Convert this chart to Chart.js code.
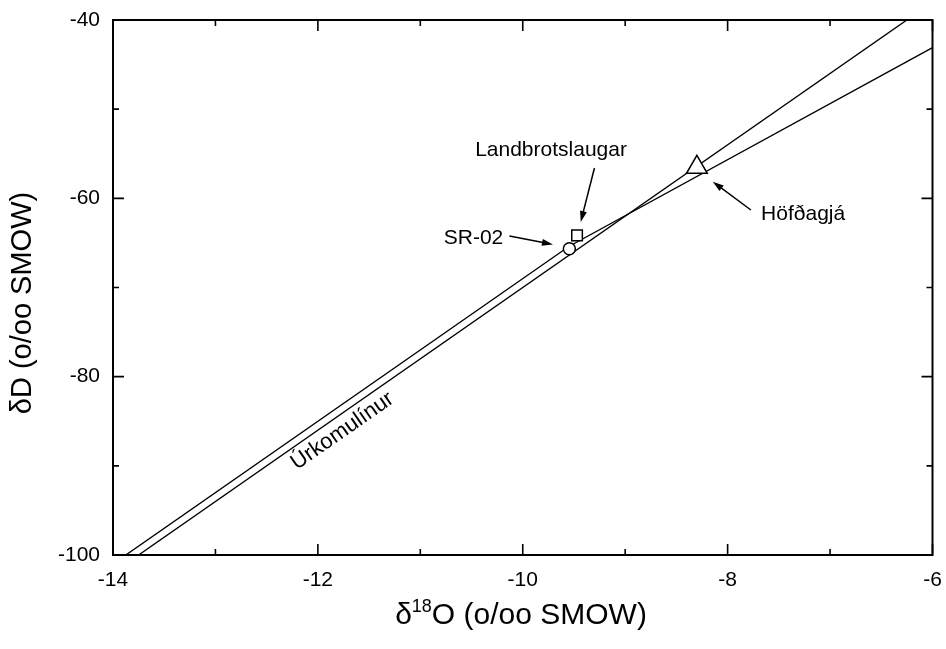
<!DOCTYPE html>
<html><head><meta charset="utf-8">
<script src="https://cdn.jsdelivr.net/npm/chart.js@4.4.0/dist/chart.umd.min.js"></script>
<style>html,body{margin:0;padding:0;background:#fff;}#wrap{width:946px;height:649px;}</style>
</head><body><div id="wrap"><canvas id="c" width="946" height="649"></canvas></div>
<script>
// ---- data ----
const xMajorTicks = [-14, -12, -10, -8, -6];
const xMinorTicks = [-13, -11, -9, -7];
const yMajorTicks = [-100, -80, -60, -40];
const yMinorTicks = [-90, -70, -50];
const gmwlO = [-13.75, -6.25];
const gmwlD = [-100, -40];
const localO = [-13.875, -9.55, -6.0];
const localD = [-100, -65.4, -43.1];
const sampleNames = ['SR-02', 'Landbrotslaugar', 'Höfðagjá'];
const sampleO = [-9.545, -9.47, -8.30];
const sampleD = [-65.66, -64.15, -56.52];
const lineLabel = 'Úrkomulínur';
const xTitleParts = ['δ', '18', 'O (o/oo SMOW)'];
const yTitle = 'δD (o/oo SMOW)';

// ---- annotation layout (data coordinates) ----
const notes = [
  {text: sampleNames[1], x: -9.724, y: -54.58, align: 'center', tail: [-9.30, -56.6], tip: [-9.434, -62.65]},
  {text: sampleNames[0], x: -10.19, y: -64.45, align: 'right', tail: [-10.13, -64.22], tip: [-9.705, -65.18]},
  {text: sampleNames[2], x: -7.673, y: -61.76, align: 'left', tail: [-7.773, -61.31], tip: [-8.145, -58.13]}
];
const lineNote = {x: -11.76, y: -86.1};

const FONT = "'Liberation Sans', Arial, sans-serif";

function arrow(ctx, x1, y1, x2, y2) {
  const a = Math.atan2(y2 - y1, x2 - x1);
  const L = 11, W = 3.5;
  ctx.beginPath();
  ctx.moveTo(x1, y1);
  ctx.lineTo(x2 - Math.cos(a) * L * 0.8, y2 - Math.sin(a) * L * 0.8);
  ctx.stroke();
  ctx.beginPath();
  ctx.moveTo(x2, y2);
  ctx.lineTo(x2 - Math.cos(a) * L + Math.sin(a) * W, y2 - Math.sin(a) * L - Math.cos(a) * W);
  ctx.lineTo(x2 - Math.cos(a) * L - Math.sin(a) * W, y2 - Math.sin(a) * L + Math.cos(a) * W);
  ctx.closePath();
  ctx.fill();
}

const decor = {
  id: 'decor',
  afterDraw(chart) {
    const {ctx, chartArea: ca, scales: {x, y}} = chart;
    ctx.save();
    ctx.strokeStyle = '#000'; ctx.fillStyle = '#000';
    // frame
    ctx.lineWidth = 2;
    ctx.strokeRect(ca.left, ca.top, ca.right - ca.left, ca.bottom - ca.top);
    // ticks (inward, all sides)
    ctx.lineWidth = 1.6;
    const tk = (vals, len) => {
      vals.forEach(v => {
        const px = x.getPixelForValue(v);
        ctx.beginPath();
        ctx.moveTo(px, ca.bottom); ctx.lineTo(px, ca.bottom - len);
        ctx.moveTo(px, ca.top); ctx.lineTo(px, ca.top + len);
        ctx.stroke();
      });
    };
    const tky = (vals, len) => {
      vals.forEach(v => {
        const py = y.getPixelForValue(v);
        ctx.beginPath();
        ctx.moveTo(ca.left, py); ctx.lineTo(ca.left + len, py);
        ctx.moveTo(ca.right, py); ctx.lineTo(ca.right - len, py);
        ctx.stroke();
      });
    };
    tk(xMajorTicks, 11); tk(xMinorTicks, 6);
    tky(yMajorTicks, 11); tky(yMinorTicks, 6);

    // annotations
    ctx.font = '21px ' + FONT;
    ctx.textBaseline = 'middle';
    ctx.lineWidth = 1.5;
    notes.forEach(n => {
      ctx.textAlign = n.align;
      ctx.fillText(n.text, x.getPixelForValue(n.x), y.getPixelForValue(n.y));
      arrow(ctx, x.getPixelForValue(n.tail[0]), y.getPixelForValue(n.tail[1]),
                 x.getPixelForValue(n.tip[0]), y.getPixelForValue(n.tip[1]));
    });
    // rotated line label
    const ang = Math.atan2(y.getPixelForValue(gmwlD[1]) - y.getPixelForValue(gmwlD[0]),
                           x.getPixelForValue(gmwlO[1]) - x.getPixelForValue(gmwlO[0]));
    ctx.save();
    ctx.translate(x.getPixelForValue(lineNote.x), y.getPixelForValue(lineNote.y));
    ctx.rotate(ang);
    ctx.textAlign = 'center';
    ctx.font = '22px ' + FONT;
    ctx.fillText(lineLabel, 0, 0);
    ctx.restore();

    // x title with superscript
    const big = 30, small = 18;
    const f1 = big + 'px ' + FONT, f2 = small + 'px ' + FONT;
    ctx.textBaseline = 'alphabetic';
    ctx.textAlign = 'left';
    ctx.font = f1; const w0 = ctx.measureText(xTitleParts[0]).width;
    const w2 = ctx.measureText(xTitleParts[2]).width;
    ctx.font = f2; const w1 = ctx.measureText(xTitleParts[1]).width;
    const total = w0 + w1 + w2;
    let sx = 521 - total / 2;
    const by = 624;
    ctx.font = f1; ctx.fillText(xTitleParts[0], sx, by); sx += w0;
    ctx.font = f2; ctx.fillText(xTitleParts[1], sx, by - 12); sx += w1;
    ctx.font = f1; ctx.fillText(xTitleParts[2], sx, by);

    // y title
    ctx.save();
    ctx.translate(23, 303);
    ctx.rotate(-Math.PI / 2);
    ctx.textAlign = 'center';
    ctx.textBaseline = 'middle';
    ctx.font = '29px ' + FONT;
    ctx.fillText(yTitle, 0, 0);
    ctx.restore();
    ctx.restore();
  }
};

const toPts = (xs, ys) => xs.map((v, i) => ({x: v, y: ys[i]}));

new Chart(document.getElementById('c'), {
  type: 'scatter',
  data: {
    datasets: [
      {
        label: 'Sýni',
        data: toPts(sampleO, sampleD),
        pointStyle: ['circle', 'rect', 'triangle'],
        pointRadius: [6, 7.5, 12],
        pointBackgroundColor: '#fff',
        pointBorderColor: '#000',
        pointBorderWidth: 1.5,
        showLine: false
      },
      {
        label: 'GMWL',
        data: toPts(gmwlO, gmwlD),
        showLine: true, pointRadius: 0,
        borderColor: '#000', borderWidth: 1.4, fill: false
      },
      {
        label: 'Local',
        data: toPts(localO, localD),
        showLine: true, pointRadius: 0,
        borderColor: '#000', borderWidth: 1.4, fill: false
      }
    ]
  },
  options: {
    responsive: false,
    animation: false,
    devicePixelRatio: 1,
    layout: {padding: {top: 20, right: 6, left: 0, bottom: 0}},
    plugins: {legend: {display: false}, tooltip: {enabled: false}},
    scales: {
      x: {
        type: 'linear', min: -14, max: -6,
        afterBuildTicks: s => { s.ticks = xMajorTicks.map(v => ({value: v})); },
        afterFit: s => { s.height = 94; s.paddingLeft = 0; s.paddingRight = 0; },
        grid: {display: false, drawTicks: false},
        border: {display: false},
        ticks: {color: '#000', font: {family: FONT, size: 21}, padding: 13, maxRotation: 0}
      },
      y: {
        type: 'linear', min: -100, max: -40,
        afterBuildTicks: s => { s.ticks = yMajorTicks.map(v => ({value: v})); },
        afterFit: s => { s.width = 113; s.paddingTop = 0; s.paddingBottom = 0; },
        grid: {display: false, drawTicks: false},
        border: {display: false},
        ticks: {color: '#000', font: {family: FONT, size: 21}, padding: 13}
      }
    }
  },
  plugins: [decor]
});
</script></body></html>
